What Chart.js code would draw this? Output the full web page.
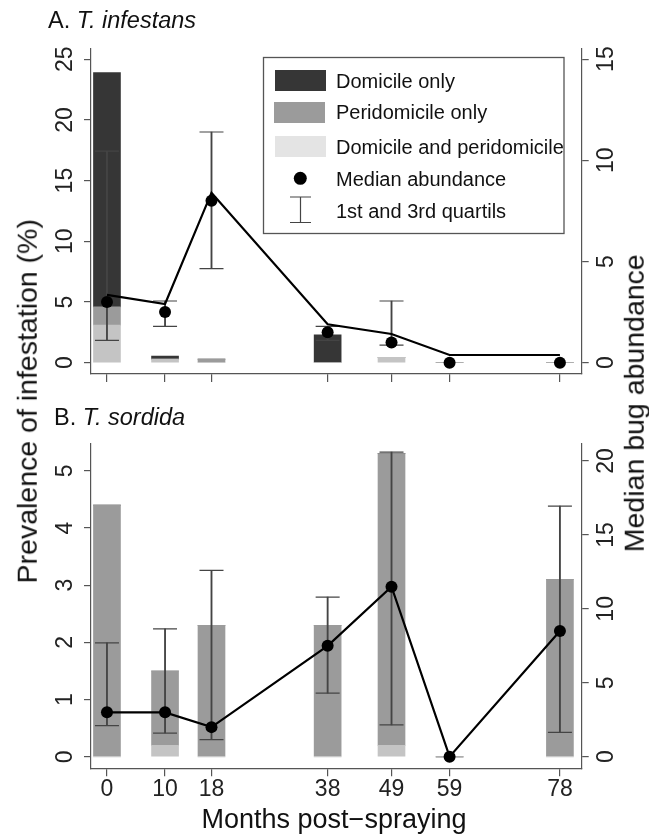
<!DOCTYPE html>
<html>
<head>
<meta charset="utf-8">
<script src="https://cdn.jsdelivr.net/npm/chart.js@4.4.1/dist/chart.umd.min.js"></script>
<style>
  html, body { margin: 0; padding: 0; background: #fff; }
  #page { position: relative; width: 649px; height: 837px; overflow: hidden;
          font-family: "Liberation Sans", Arial, sans-serif; color: #111; }
  #page canvas { position: absolute; left: 0; }
  #chart-a { top: 0; width: 649px; height: 400px; }
  #chart-b { top: 400px; width: 649px; height: 437px; }
  .label { position: absolute; white-space: nowrap; line-height: 1; }
  .panel-title { font-size: 23.5px; }
  .axis-title { font-size: 27px; width: 500px; text-align: center; }
  .vertical { font-size: 28.5px; transform: rotate(-90deg); }
</style>
</head>
<body>
<div id="page">
  <canvas id="chart-a" width="649" height="400"></canvas>
  <canvas id="chart-b" width="649" height="437"></canvas>
  <div class="label panel-title" style="left:48px; top:8.5px">A. <i>T. infestans</i></div>
  <div class="label panel-title" style="left:54px; top:405.5px">B. <i>T. sordida</i></div>
  <div class="label axis-title vertical" style="left:-223.4px; top:386.8px">Prevalence of infestation (%)</div>
  <div class="label axis-title vertical" style="left:383.5px; top:388.8px">Median bug abundance</div>
  <div class="label axis-title" style="left:84px; top:806px">Months post−spraying</div>
</div>
<script>
  const months = [0, 10, 18, 38, 49, 59, 78];

  // A. T. infestans -- prevalence (%) stacked by site, abundance on the right axis
  const aDomicileOnly = [19.3, 0.25, 0, 2.3, 0, 0, 0];
  const aPeridomicileOnly = [1.5, 0, 0.3, 0, 0, 0, 0];
  const aBoth = [3.1, 0.3, 0, 0, 0.45, 0, 0];
  const aMedian = [3.0, 2.5, 8.0, 1.5, 1.0, 0, 0];
  const aQ1 = [1.1, 1.8, 4.65, 1.1, 0.87, null, null];
  const aQ3 = [10.45, 3.05, 11.4, 1.8, 3.05, null, null];
  const aLine = [3.35, 2.9, 8.4, 1.9, 1.42, 0.38, 0.38];

  // B. T. sordida
  const bDomicileOnly = [0, 0, 0, 0, 0, 0, 0];
  const bPeridomicileOnly = [4.4, 1.3, 2.3, 2.3, 5.1, 0, 3.1];
  const bBoth = [0, 0.2, 0, 0, 0.2, 0, 0];
  const bMedian = [3.0, 3.0, 2.0, 7.5, 11.5, 0, 8.5];
  const bQ1 = [2.1, 1.6, 1.15, 4.3, 2.15, null, 1.65];
  const bQ3 = [7.7, 8.65, 12.6, 10.8, 20.6, null, 16.95];

  const aLeftTicks = [0, 5, 10, 15, 20, 25];
  const aRightTicks = [0, 5, 10, 15];
  const bLeftTicks = [0, 1, 2, 3, 4, 5];
  const bRightTicks = [0, 5, 10, 15, 20];

  const legendLabels = [
    "Domicile only",
    "Peridomicile only",
    "Domicile and peridomicile",
    "Median abundance",
    "1st and 3rd quartils",
  ];

  const colors = {
    domicile: "#363636",
    peridomicile: "#9b9b9b",
    both: "#c4c4c4",
    bothKey: "#e4e4e4",
    axis: "#555",
    whisker: "#444",
    text: "#222",
  };

  Chart.defaults.font.family = "'Liberation Sans', Arial, sans-serif";

  function pairs(values) {
    return months.map(function (m, i) {
      return { x: m, y: values[i] };
    });
  }

  function capPoints(lo, hi) {
    const pts = [];
    months.forEach(function (m, i) {
      if (lo[i] !== null) {
        pts.push({ x: m, y: lo[i] });
        pts.push({ x: m, y: hi[i] });
      }
    });
    return pts;
  }

  function stemRanges(lo, hi) {
    const out = [];
    months.forEach(function (m, i) {
      if (lo[i] !== null) {
        out.push({ x: m, y: [lo[i], hi[i]] });
      }
    });
    return out;
  }

  // y tick labels in R are turned parallel to the axis
  function rotatedTicks(baselines) {
    return {
      id: "rotatedTicks",
      afterDraw(chart) {
        const ctx = chart.ctx;
        ctx.save();
        ctx.font = "23px 'Liberation Sans', Arial, sans-serif";
        ctx.fillStyle = colors.text;
        ctx.textAlign = "center";
        ctx.textBaseline = "alphabetic";
        Object.keys(baselines).forEach(function (id) {
          const scale = chart.scales[id];
          scale.ticks.forEach(function (tick) {
            ctx.save();
            ctx.translate(baselines[id], scale.getPixelForValue(tick.value));
            ctx.rotate(-Math.PI / 2);
            ctx.fillText(String(tick.value), 0, 0);
            ctx.restore();
          });
        });
        ctx.restore();
      },
    };
  }

  const legendBox = {
    id: "legendBox",
    afterDraw(chart) {
      const ctx = chart.ctx;
      const textY = [88.3, 119, 154.3, 186, 218.3];
      ctx.save();
      ctx.fillStyle = "#fff";
      ctx.fillRect(263.5, 57.5, 300.5, 176);
      ctx.strokeStyle = colors.axis;
      ctx.lineWidth = 1.3;
      ctx.strokeRect(263.5, 57.5, 300.5, 176);

      ctx.fillStyle = colors.domicile;
      ctx.fillRect(275, 70, 51, 21);
      ctx.fillStyle = colors.peridomicile;
      ctx.fillRect(274, 102, 51, 21);
      ctx.fillStyle = colors.bothKey;
      ctx.fillRect(275, 136, 51, 21);

      ctx.fillStyle = "#000";
      ctx.beginPath();
      ctx.arc(300.3, 178.3, 6.5, 0, Math.PI * 2);
      ctx.fill();

      ctx.strokeStyle = colors.whisker;
      ctx.lineWidth = 1.2;
      ctx.beginPath();
      ctx.moveTo(300.5, 197); ctx.lineTo(300.5, 222.5);
      ctx.moveTo(290, 197); ctx.lineTo(311, 197);
      ctx.moveTo(290, 222.5); ctx.lineTo(311, 222.5);
      ctx.stroke();

      ctx.fillStyle = "#111";
      ctx.font = "20px 'Liberation Sans', Arial, sans-serif";
      ctx.textBaseline = "alphabetic";
      legendLabels.forEach(function (label, i) {
        ctx.fillText(label, 336, textY[i]);
      });
      ctx.restore();
    },
  };

  function axisLook(tickLength) {
    return {
      grid: { display: true, drawOnChartArea: false, drawTicks: true, tickLength: tickLength,
              color: colors.axis, lineWidth: 1.2, offset: false },
      border: { display: true, color: colors.axis, width: 1.2 },
    };
  }

  function buildChart(canvasId, p) {
    const x = Object.assign(axisLook(8), {
      type: "linear",
      min: -2.75,
      max: 81.75,
      offset: false,
      afterBuildTicks: function (axis) {
        axis.ticks = months.map(function (v) { return { value: v }; });
      },
      afterFit: function (axis) { axis.height = p.xHeight; },
      ticks: { display: p.showX, autoSkip: false, maxRotation: 0, padding: 0,
                color: colors.text, font: { size: 23 } },
    });
    const y = Object.assign(axisLook(7), {
      type: "linear",
      position: "left",
      stacked: true,
      min: p.leftRange[0],
      max: p.leftRange[1],
      afterBuildTicks: function (axis) {
        axis.ticks = p.leftTicks.map(function (v) { return { value: v }; });
      },
      afterFit: function (axis) { axis.width = 91; },
      ticks: { display: false },
    });
    const y1 = Object.assign(axisLook(7), {
      type: "linear",
      position: "right",
      stacked: false,
      min: p.rightRange[0],
      max: p.rightRange[1],
      afterBuildTicks: function (axis) {
        axis.ticks = p.rightTicks.map(function (v) { return { value: v }; });
      },
      afterFit: function (axis) { axis.width = 67.3; },
      ticks: { display: false },
    });

    const barBase = { type: "bar", yAxisID: "y", stack: "prevalence", grouped: false,
                      barThickness: 27, borderWidth: 0 };

    return new Chart(document.getElementById(canvasId), {
      type: "bar",
      data: {
        datasets: [
          { type: "scatter", label: "Median abundance", data: pairs(p.median), yAxisID: "y1",
            order: 0, pointRadius: 6, pointHoverRadius: 6, backgroundColor: "#000", borderWidth: 0 },
          { type: "line", label: "trend", data: pairs(p.line), yAxisID: "y1", order: 1,
            borderColor: "#000", borderWidth: 2.2, pointRadius: 0, tension: 0, fill: false },
          { type: "scatter", label: "quartile caps", data: capPoints(p.q1, p.q3), yAxisID: "y1",
            order: 2, pointStyle: "line", pointRadius: 12, pointHoverRadius: 12,
            borderColor: colors.whisker, borderWidth: 1.2 },
          { type: "bar", label: "quartile range", data: stemRanges(p.q1, p.q3), yAxisID: "y1",
            order: 3, grouped: false, barThickness: 1.2, backgroundColor: colors.whisker, borderWidth: 0 },
          Object.assign({ label: legendLabels[2], data: pairs(p.both), order: 4,
                          backgroundColor: colors.both }, barBase),
          Object.assign({ label: legendLabels[1], data: pairs(p.peri), order: 5,
                          backgroundColor: colors.peridomicile }, barBase),
          Object.assign({ label: legendLabels[0], data: pairs(p.dom), order: 6,
                          backgroundColor: colors.domicile }, barBase),
        ],
      },
      options: {
        responsive: false,
        animation: false,
        layout: { padding: { top: p.top, left: 0, right: 0, bottom: 0 } },
        plugins: { legend: { display: false }, tooltip: { enabled: false } },
        scales: { x: x, y: y, y1: y1 },
      },
      plugins: [rotatedTicks({ y: 72, y1: 613 })].concat(p.extra),
    });
  }

  buildChart("chart-a", {
    top: 49, xHeight: 26, showX: false,
    leftRange: [-0.93, 25.84], rightRange: [-0.558, 15.5],
    leftTicks: aLeftTicks, rightTicks: aRightTicks,
    dom: aDomicileOnly, peri: aPeridomicileOnly, both: aBoth,
    median: aMedian, q1: aQ1, q3: aQ3, line: aLine,
    extra: [legendBox],
  });

  buildChart("chart-b", {
    top: 43.3, xHeight: 68.7, showX: true,
    leftRange: [-0.2, 5.48], rightRange: [-0.785, 21.2],
    leftTicks: bLeftTicks, rightTicks: bRightTicks,
    dom: bDomicileOnly, peri: bPeridomicileOnly, both: bBoth,
    median: bMedian, q1: bQ1, q3: bQ3, line: bMedian,
    extra: [],
  });
</script>
</body>
</html>
